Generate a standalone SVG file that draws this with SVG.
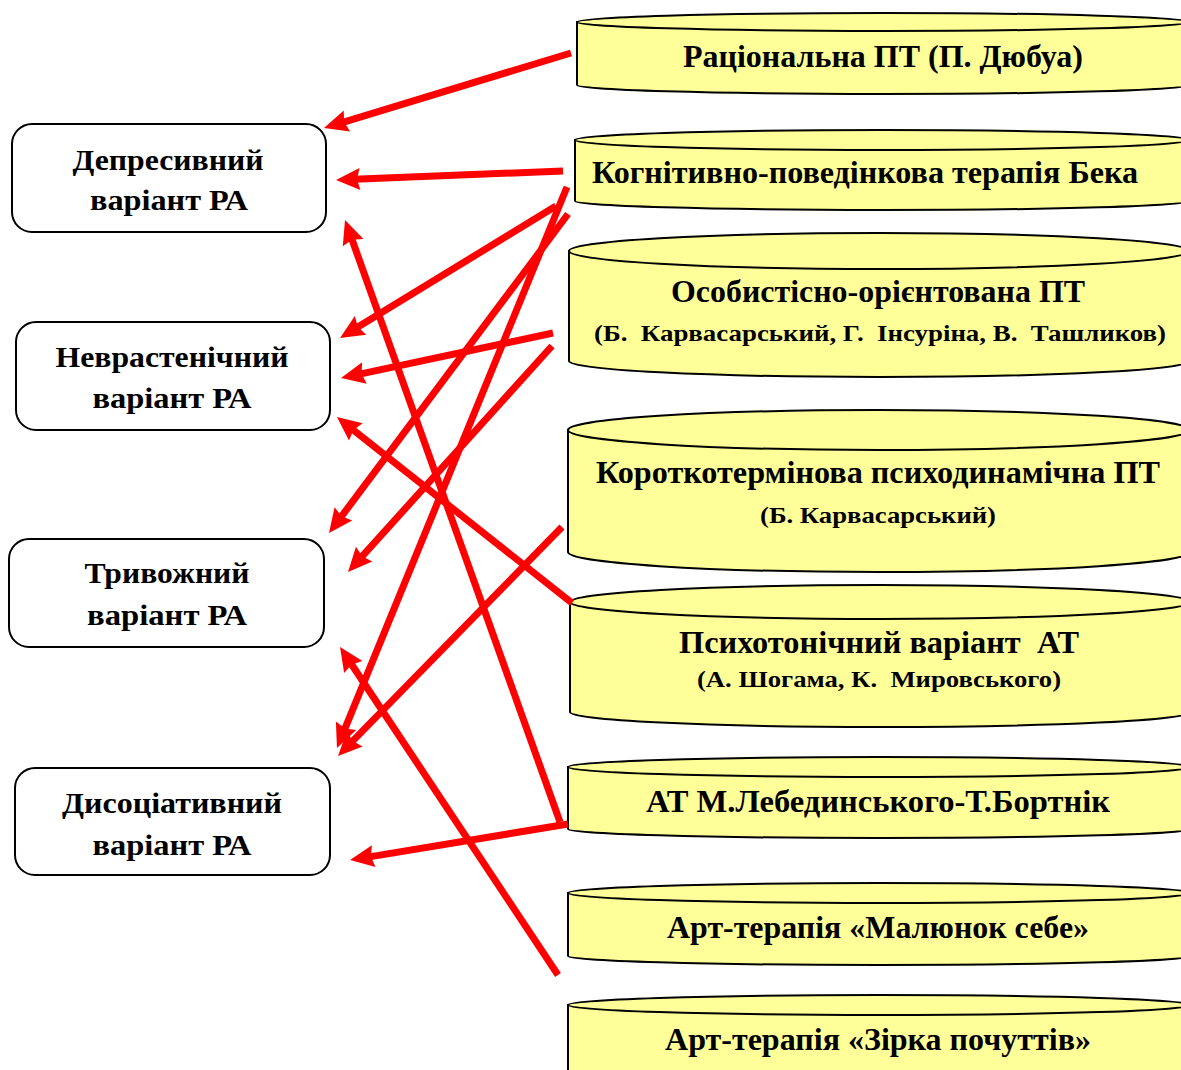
<svg xmlns="http://www.w3.org/2000/svg" width="1181" height="1070" viewBox="0 0 1181 1070">
<style>
.box{fill:#fff;stroke:#000;stroke-width:2}
.cyl{fill:#FFFF99;stroke:#000;stroke-width:2}
.t{font-family:"Liberation Serif","Times New Roman",serif;font-weight:bold;fill:#000;text-anchor:middle;white-space:pre}
.m{font-size:32px}
.s{font-size:24px}
.lt{font-size:30px}
.con line{stroke:#FF0000;stroke-width:7;marker-end:url(#ah)}
</style>
<defs>
<marker id="ah" markerUnits="userSpaceOnUse" markerWidth="26" markerHeight="24" viewBox="0 0 26 24" refX="7" refY="12" orient="auto">
<path d="M1,1 L25,12 L1,23 L4,12 Z" fill="#FF0000"/>
</marker>
</defs>
<rect width="1181" height="1070" fill="#fff"/>

<g id="dep">
<rect class="box" x="12" y="124" width="314" height="108" rx="20"/>
<text class="t lt" x="168" y="170" textLength="191" lengthAdjust="spacingAndGlyphs">Депресивний</text>
<text class="t lt" x="169" y="210" textLength="158" lengthAdjust="spacingAndGlyphs">варіант РА</text>
</g>
<g id="nevr">
<rect class="box" x="16" y="322" width="314" height="108" rx="20"/>
<text class="t lt" x="172" y="367" textLength="233" lengthAdjust="spacingAndGlyphs">Неврастенічний</text>
<text class="t lt" x="172" y="408" textLength="159" lengthAdjust="spacingAndGlyphs">варіант РА</text>
</g>
<g id="tryv">
<rect class="box" x="9" y="539" width="315" height="108" rx="20"/>
<text class="t lt" x="167" y="583" textLength="165" lengthAdjust="spacingAndGlyphs">Тривожний</text>
<text class="t lt" x="167" y="625" textLength="160" lengthAdjust="spacingAndGlyphs">варіант РА</text>
</g>
<g id="dys">
<rect class="box" x="15" y="768" width="315" height="107" rx="20"/>
<text class="t lt" x="172" y="813" textLength="220" lengthAdjust="spacingAndGlyphs">Дисоціативний</text>
<text class="t lt" x="172" y="855" textLength="159" lengthAdjust="spacingAndGlyphs">варіант РА</text>
</g>

<g id="c1">
<path class="cyl" d="M577,22 L577,85 A306,9 0 0 0 1189,85 L1189,22 Z"/>
<ellipse class="cyl" cx="883" cy="22" rx="306" ry="9"/>
<text class="t m" x="883" y="67" font-size="33" textLength="400" lengthAdjust="spacingAndGlyphs">Раціональна ПТ (П. Дюбуа)</text>
</g>
<g id="c2">
<path class="cyl" d="M575,140 L575,201 A307,9 0 0 0 1189,201 L1189,140 Z"/>
<ellipse class="cyl" cx="882" cy="140" rx="307" ry="10"/>
<text class="t m" x="592" y="183" style="text-anchor:start" textLength="546" lengthAdjust="spacingAndGlyphs">Когнітивно-поведінкова терапія Бека</text>
</g>
<g id="c3">
<path class="cyl" d="M569,251 L569,361 A310,16 0 0 0 1189,361 L1189,251 Z"/>
<ellipse class="cyl" cx="879" cy="251" rx="310" ry="18"/>
<text class="t m" x="878" y="302" textLength="414" lengthAdjust="spacingAndGlyphs">Особистісно-орієнтована ПТ</text>
<text class="t s" x="880" y="341" textLength="572" lengthAdjust="spacingAndGlyphs">(Б.  Карвасарський, Г.  Інсуріна, В.  Ташликов)</text>
</g>
<g id="c4">
<path class="cyl" d="M568,430 L568,552 A311,20 0 0 0 1190,552 L1190,430 Z"/>
<ellipse class="cyl" cx="879" cy="430" rx="311" ry="20"/>
<text class="t m" x="878" y="483" textLength="564" lengthAdjust="spacingAndGlyphs">Короткотермінова психодинамічна ПТ</text>
<text class="t s" x="878" y="523" textLength="236" lengthAdjust="spacingAndGlyphs">(Б. Карвасарський)</text>
</g>
<g id="c5">
<path class="cyl" d="M570,602 L570,712 A310,15 0 0 0 1190,712 L1190,602 Z"/>
<ellipse class="cyl" cx="880" cy="602" rx="310" ry="17"/>
<text class="t m" x="879" y="653" textLength="400" lengthAdjust="spacingAndGlyphs">Психотонічний варіант  АТ</text>
<text class="t s" x="879" y="687" font-size="25" textLength="364" lengthAdjust="spacingAndGlyphs">(А. Шогама, К.  Мировського)</text>
</g>
<g id="c6">
<path class="cyl" d="M568,767 L568,829 A311,9 0 0 0 1190,829 L1190,767 Z"/>
<ellipse class="cyl" cx="879" cy="767" rx="311" ry="10"/>
<text class="t m" x="878" y="812" textLength="464" lengthAdjust="spacingAndGlyphs">АТ М.Лебединського-Т.Бортнік</text>
</g>
<g id="c7">
<path class="cyl" d="M568,893 L568,956 A311,9 0 0 0 1190,956 L1190,893 Z"/>
<ellipse class="cyl" cx="879" cy="893" rx="311" ry="10"/>
<text class="t m" x="878" y="938" textLength="422" lengthAdjust="spacingAndGlyphs">Арт-терапія «Малюнок себе»</text>
</g>
<g id="c8">
<path class="cyl" d="M568,1005 L568,1080 L1190,1080 L1190,1005 Z"/>
<ellipse class="cyl" cx="879" cy="1005" rx="311" ry="10"/>
<text class="t m" x="878" y="1050" textLength="426" lengthAdjust="spacingAndGlyphs">Арт-терапія «Зірка почуттів»</text>
</g>

<g id="connectors" class="con">
<line x1="571" y1="53" x2="341.2" y2="122.8"/>
<line x1="563" y1="171" x2="354.0" y2="179.3"/>
<line x1="560" y1="822" x2="351.1" y2="237.0"/>
<line x1="556" y1="206" x2="355.4" y2="328.6"/>
<line x1="567" y1="187" x2="343.8" y2="731.3"/>
<line x1="568" y1="214" x2="339.8" y2="518.6"/>
<line x1="553" y1="333" x2="358.6" y2="374.3"/>
<line x1="552" y1="346" x2="360.1" y2="558.6"/>
<line x1="572" y1="603" x2="351.1" y2="428.2"/>
<line x1="562" y1="527" x2="350.6" y2="743.1"/>
<line x1="568" y1="824" x2="367.8" y2="857.1"/>
<line x1="558" y1="975" x2="350.0" y2="662.0"/>
</g>
</svg>
